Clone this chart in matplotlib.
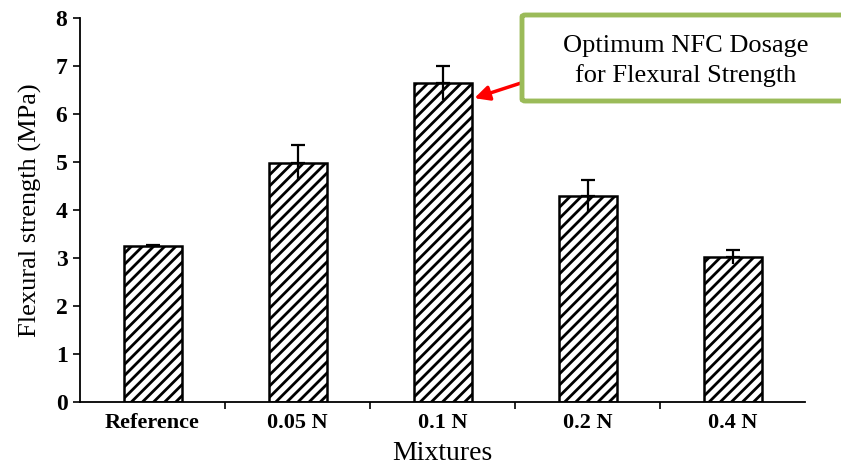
import matplotlib
matplotlib.use('Agg')

import matplotlib.pyplot as plt
from matplotlib.patches import FancyBboxPatch
import numpy as np

# data
mixtures = ['Reference', '0.05 N', '0.1 N', '0.2 N', '0.4 N']
strength = [3.25, 4.98, 6.64, 4.29, 3.02]
strength_err = [0.03, 0.37, 0.35, 0.33, 0.15]

plt.rcParams['font.family'] = ['Liberation Serif', 'DejaVu Serif']
plt.rcParams['hatch.linewidth'] = 2.0

fig = plt.figure(figsize=(8.41, 4.66), dpi=100)
ax = fig.add_axes([80/841, 64/466, 725/841, 384/466])

x = np.arange(len(mixtures))
s = np.array(strength)
e = np.array(strength_err)
ax.bar(x, s, width=0.4, color='white', edgecolor='black',
       hatch='///', linewidth=1.8, zorder=2)
# cap only on the upper end, plain line down into the bar
ax.errorbar(x, s, yerr=[np.zeros_like(e), e], fmt='none', ecolor='black',
            elinewidth=1.6, capsize=5, capthick=1.6, zorder=3)
ax.vlines(x, s - e, s, color='black', linewidth=1.6, zorder=3)

ax.set_xlim(-0.5, len(mixtures) - 0.5)
ax.set_ylim(0, 8)
ax.set_yticks(range(0, 9))
ax.set_xticks(x)
ax.set_xticklabels(mixtures, fontsize=16, fontweight='bold')
ax.set_yticklabels([str(v) for v in range(0, 9)], fontsize=17, fontweight='bold')
ax.set_xticks(x[:-1] + 0.5, minor=True)
ax.tick_params(axis='x', which='major', length=0, pad=8)
ax.tick_params(axis='x', which='minor', length=5, width=1.2, direction='out')
ax.tick_params(axis='y', length=5, width=1.2, direction='out', pad=4)

ax.spines['top'].set_visible(False)
ax.spines['right'].set_visible(False)
ax.spines['left'].set_linewidth(1.3)
ax.spines['bottom'].set_linewidth(1.3)

ax.set_xlabel('Mixtures', fontsize=20, labelpad=6)
ax.set_ylabel('Flexural strength (MPa)', fontsize=19, labelpad=10)

# annotation box
box = FancyBboxPatch((522/841, (466-101)/466), 330/841, 86/466,
                     boxstyle='round,pad=0,rounding_size=0.004',
                     transform=fig.transFigure, facecolor='white',
                     edgecolor='#9bbb59', linewidth=3.5, clip_on=False)
fig.patches.append(box)
fig.text(686/841, (466-61)/466, 'Optimum NFC Dosage\nfor Flexural Strength',
         ha='center', va='center', fontsize=19, linespacing=1.35)

ax.annotate('', xy=(2.22, 6.33), xycoords='data',
            xytext=(521/841, (466-83)/466), textcoords='figure fraction',
            arrowprops=dict(arrowstyle='-|>', color='red', lw=2.5,
                            mutation_scale=22, shrinkA=0, shrinkB=0))

plt.savefig('out.png', dpi=100)
